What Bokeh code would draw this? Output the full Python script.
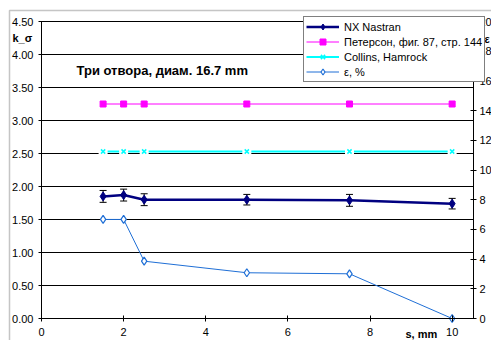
from bokeh.plotting import figure
from bokeh.models import (Range1d, LinearAxis, FixedTicker, NumeralTickFormatter,
                          Label, Legend, LegendItem, Whisker, ColumnDataSource,
                          BoxAnnotation)
from bokeh.embed import file_html
from bokeh.resources import INLINE

# Hole spacing s, mm
s_mm = [1.5, 2, 2.5, 5, 7.5, 10]
# Stress concentration factor k_sigma
k_nx = [1.85, 1.87, 1.80, 1.80, 1.79, 1.74]
k_nx_err = [0.09, 0.09, 0.09, 0.08, 0.09, 0.08]
k_peterson = [3.25, 3.25, 3.25, 3.25, 3.25, 3.25]
k_collins = [2.53, 2.53, 2.53, 2.53, 2.53, 2.53]
# Relative difference, %
eps_pct = [6.67, 6.67, 3.86, 3.08, 3.01, 0.0]

x_ticks = [0, 2, 4, 6, 8, 10]
k_ticks = [0, 0.5, 1.0, 1.5, 2.0, 2.5, 3.0, 3.5, 4.0, 4.5]
eps_ticks = [0, 2, 4, 6, 8, 10, 12, 14, 16, 18, 20]

# Axis extents of the plotting area
X_MIN, X_MAX = 0.0, 10.52
K_MIN, K_MAX = 0.0, 4.5
E_MIN, E_MAX = 0.0, 20.0

FONT = "Liberation Sans"
W, H = 491, 340
# Plot-area placement inside the canvas (pixels)
PL, PR, PT, PB = 41, 473, 21, 318

def span(lo, hi, p_lo, p_hi, size, inverted=False):
    # Data range covering the whole canvas so that [lo, hi] maps to [p_lo, p_hi]
    k = (hi - lo) / (p_hi - p_lo)
    if inverted:
        return Range1d(lo - (size - p_hi) * k, hi + p_lo * k)
    return Range1d(lo - p_lo * k, hi + (size - p_hi) * k)

p = figure(width=W, height=H, output_backend="svg", toolbar_location=None,
           x_range=span(X_MIN, X_MAX, PL, PR, W),
           y_range=span(K_MIN, K_MAX, PT, PB, H, inverted=True),
           min_border=0)
p.extra_y_ranges = {"eps": span(E_MIN, E_MAX, PT, PB, H, inverted=True)}
p.background_fill_color = "white"
p.border_fill_color = "white"
p.outline_line_color = None
p.grid.visible = False

right_axis = LinearAxis(y_range_name="eps")
p.add_layout(right_axis, "right")

for ax in (p.xaxis[0], p.yaxis[0], right_axis):
    ax.axis_line_color = "black"
    ax.major_tick_line_color = "black"
    ax.minor_tick_line_color = None
    ax.major_tick_in = 3
    ax.major_tick_out = 3
    ax.major_label_text_font = FONT
    ax.major_label_text_font_size = "11px"
    ax.major_label_text_color = "black"

p.xaxis[0].ticker = FixedTicker(ticks=x_ticks)
p.xaxis[0].fixed_location = K_MIN
p.xaxis[0].bounds = (X_MIN, X_MAX)
p.xaxis[0].major_label_standoff = 6
p.yaxis[0].ticker = FixedTicker(ticks=k_ticks)
p.yaxis[0].formatter = NumeralTickFormatter(format="0.00")
p.yaxis[0].fixed_location = X_MIN
p.yaxis[0].bounds = (K_MIN, K_MAX)
p.yaxis[0].major_label_standoff = 5
right_axis.ticker = FixedTicker(ticks=eps_ticks)
right_axis.fixed_location = X_MAX
right_axis.bounds = (E_MIN, E_MAX)
right_axis.major_label_standoff = 3

# Horizontal grid lines across the plotting area
p.segment(x0=X_MIN, x1=X_MAX, y0=k_ticks, y1=k_ticks,
          line_color="black", line_width=1, level="underlay")

# Peterson reference value
r_pet_line = p.line(s_mm, k_peterson, line_color="#FF00FF", line_width=1)
r_pet_mark = p.scatter(s_mm, k_peterson, marker="square", size=6,
                       fill_color="#FF00FF", line_color="#FF00FF")

# Collins & Hamrock reference value (markers sit on a white patch)
r_col_line = p.line(s_mm, k_collins, line_color="#00FFFF", line_width=2)
p.scatter(s_mm, k_collins, marker="square", size=9,
          fill_color="white", line_color=None)
r_col_mark = p.scatter(s_mm, k_collins, marker="x", size=6,
                       line_color="#00FFFF", line_width=1.5)

# NX Nastran results with error bars
src_nx = ColumnDataSource(data=dict(
    x=s_mm, y=k_nx,
    lo=[v - e for v, e in zip(k_nx, k_nx_err)],
    hi=[v + e for v, e in zip(k_nx, k_nx_err)]))
whisk = Whisker(source=src_nx, base="x", lower="lo", upper="hi",
                line_color="black", line_width=1)
for head in (whisk.upper_head, whisk.lower_head):
    head.size = 7
    head.line_color = "black"
    head.line_width = 1
p.add_layout(whisk)
r_nx_line = p.line("x", "y", source=src_nx, line_color="#000080", line_width=2.5)
r_nx_mark = p.scatter("x", "y", source=src_nx, marker="diamond",
                      size=9, fill_color="#000080", line_color="#000080")

# Relative difference on the secondary axis
r_eps_line = p.line(s_mm, eps_pct, y_range_name="eps",
                    line_color="#1F6FD6", line_width=1)
r_eps_mark = p.scatter(s_mm, eps_pct, y_range_name="eps", marker="diamond",
                       size=8, fill_color="white",
                       line_color="#1F6FD6", line_width=1.2)

# Chart border
p.add_layout(BoxAnnotation(left=9, right=W + 20, top=H - 10, bottom=-20,
                           left_units="screen", right_units="screen",
                           top_units="screen", bottom_units="screen",
                           fill_color=None, line_color="#404040",
                           line_width=1.5))

def add_text(x, y, txt, size="11px"):
    # x, y in canvas pixels from the top-left corner
    p.add_layout(Label(x=x, y=H - y, x_units="screen", y_units="screen", text=txt,
                       text_font=FONT, text_font_size=size,
                       text_font_style="bold", text_color="black",
                       text_align="left", text_baseline="middle"))

add_text(76, 70, "Три отвора, диам. 16.7 mm", size="13px")
add_text(12, 37, "k_σ")
add_text(405, 333, "s, mm")
add_text(484, 38, "ε")

legend = Legend(items=[
    LegendItem(label="NX Nastran", renderers=[r_nx_line, r_nx_mark]),
    LegendItem(label="Петерсон, фиг. 87, стр. 144", renderers=[r_pet_line, r_pet_mark]),
    LegendItem(label="Collins, Hamrock", renderers=[r_col_line, r_col_mark]),
    LegendItem(label="ε, %", renderers=[r_eps_line, r_eps_mark]),
], location=(303, H - 82))
legend.label_text_font = FONT
legend.label_text_font_size = "11px"
legend.label_text_color = "black"
legend.border_line_color = "black"
legend.border_line_width = 1
legend.background_fill_color = "white"
legend.background_fill_alpha = 1
legend.padding = 2
legend.margin = 0
legend.spacing = 0
legend.glyph_width = 33
legend.glyph_height = 15
legend.label_height = 15
legend.label_standoff = 5
p.add_layout(legend)

open("out.html", "w").write(file_html(p, INLINE))
